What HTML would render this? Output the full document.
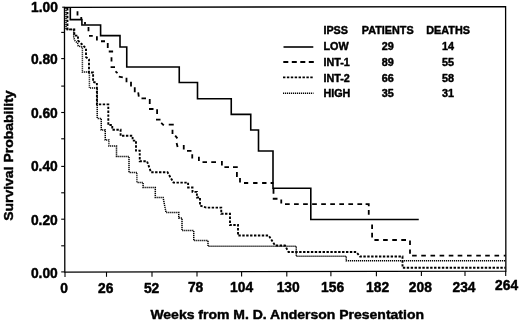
<!DOCTYPE html>
<html>
<head>
<meta charset="utf-8">
<title>Survival Probability by IPSS</title>
<style>
html,body{margin:0;padding:0;background:#fff;}
body{width:520px;height:323px;overflow:hidden;}
svg{display:block;filter:grayscale(1);}
text{font-family:"Liberation Sans",Arial,Helvetica,sans-serif;font-weight:bold;fill:#000;stroke:#000;stroke-width:0.45px;stroke-linejoin:round;}
.ax{font-size:13.8px;}
.lg{font-size:10.8px;}
</style>
</head>
<body>
<svg width="520" height="323" viewBox="0 0 520 323">
<rect x="0" y="0" width="520" height="323" fill="#fff"/>

<!-- frame -->
<polygon points="64.45,7.3 505.6,6.6 505.85,271.1 64.8,272.1" fill="none" stroke="#000" stroke-width="1.3"/>

<!-- y ticks -->
<g stroke="#000" stroke-width="1.1">
<line x1="62.2" y1="7.2" x2="64.6" y2="7.2"/>
<line x1="61.2" y1="32.4" x2="64.6" y2="32.4"/>
<line x1="61.2" y1="58.6" x2="64.6" y2="58.6"/>
<line x1="61.2" y1="86.1" x2="64.6" y2="86.1"/>
<line x1="61.2" y1="112.5" x2="64.6" y2="112.5"/>
<line x1="61.2" y1="138.8" x2="64.6" y2="138.8"/>
<line x1="61.2" y1="166.4" x2="64.6" y2="166.4"/>
<line x1="61.2" y1="192.8" x2="64.6" y2="192.8"/>
<line x1="61.2" y1="219.2" x2="64.6" y2="219.2"/>
<line x1="61.2" y1="245.8" x2="64.6" y2="245.8"/>
<line x1="61.2" y1="271.9" x2="64.6" y2="271.9"/>
</g>
<!-- x ticks -->
<g stroke="#000" stroke-width="1.1">
<line x1="65" y1="272.1" x2="65" y2="276.9"/>
<line x1="106.5" y1="272.0" x2="106.5" y2="276.8"/>
<line x1="152" y1="271.9" x2="152" y2="276.7"/>
<line x1="197" y1="271.8" x2="197" y2="276.6"/>
<line x1="241.6" y1="271.7" x2="241.6" y2="276.5"/>
<line x1="286.8" y1="271.6" x2="286.8" y2="276.4"/>
<line x1="330.9" y1="271.5" x2="330.9" y2="276.3"/>
<line x1="376.4" y1="271.4" x2="376.4" y2="276.2"/>
<line x1="421.4" y1="271.3" x2="421.4" y2="276.1"/>
<line x1="465" y1="271.2" x2="465" y2="276.0"/>
<line x1="505.7" y1="271.1" x2="505.7" y2="275.9"/>
</g>

<!-- y labels -->
<g class="ax" text-anchor="end">
<text x="57.9" y="11.7">1.00</text>
<text x="57.8" y="63.6">0.80</text>
<text x="57.8" y="117.6">0.60</text>
<text x="57.8" y="171.1">0.40</text>
<text x="57.8" y="224.75">0.20</text>
<text x="57.8" y="278.45">0.00</text>
</g>
<!-- x labels -->
<g class="ax" text-anchor="middle">
<text x="64" y="292.7">0</text>
<text x="105.7" y="292.6">26</text>
<text x="151.6" y="292.5">52</text>
<text x="195.6" y="292.4">78</text>
<text x="241.6" y="292.3">104</text>
<text x="288.2" y="292.25">130</text>
<text x="332.6" y="292.2">156</text>
<text x="377.6" y="292.1">182</text>
<text x="420.3" y="291.9">208</text>
<text x="464" y="291.9">234</text>
<text x="506.6" y="289.8">264</text>
</g>

<!-- axis titles -->
<text class="ax" x="287.2" y="319.1" text-anchor="middle" textLength="273.6" lengthAdjust="spacingAndGlyphs" style="font-size:13.5px">Weeks from M. D. Anderson Presentation</text>
<text class="ax" transform="translate(13.4,155.65) rotate(-90)" text-anchor="middle" textLength="130.4" lengthAdjust="spacingAndGlyphs" style="font-size:13.6px">Survival Probability</text>

<!-- legend -->
<g class="lg">
<text x="323.4" y="34.1">IPSS</text>
<text x="387.75" y="34.1" text-anchor="middle">PATIENTS</text>
<text x="448.1" y="34.1" text-anchor="middle">DEATHS</text>
<text x="323.4" y="50">LOW</text>
<text x="387.75" y="50" text-anchor="middle">29</text>
<text x="448.1" y="50" text-anchor="middle">14</text>
<text x="323.4" y="65.55">INT-1</text>
<text x="387.75" y="65.55" text-anchor="middle">89</text>
<text x="448.1" y="65.55" text-anchor="middle">55</text>
<text x="323.4" y="81.65">INT-2</text>
<text x="387.75" y="81.65" text-anchor="middle">66</text>
<text x="448.1" y="81.65" text-anchor="middle">58</text>
<text x="323.4" y="97.4">HIGH</text>
<text x="387.75" y="97.4" text-anchor="middle">35</text>
<text x="448.1" y="97.4" text-anchor="middle">31</text>
</g>
<g fill="none" stroke="#000">
<line x1="283.5" y1="47" x2="313.3" y2="47" stroke-width="1.6"/>
<line x1="283.3" y1="62" x2="314" y2="62" stroke-width="1.8" stroke-dasharray="5 3.5"/>
<line x1="283" y1="77.4" x2="313" y2="77.4" stroke-width="1.9" stroke-dasharray="2.4 1.5"/>
<line x1="283" y1="93.2" x2="313.5" y2="93.2" stroke-width="1.5" stroke-dasharray="1.2 0.8"/>
</g>

<!-- curves -->
<g fill="none" stroke="#000" stroke-linejoin="miter">
<!-- LOW solid -->
<path stroke-width="1.6" d="M70.3,7.2 V19.6 H81.9 V25 H100.6 V35.6 H120 V47 H126.75 V67 H179.25 V82.5 H197.5 V98.75 H231.25 V114.4 H250.75 V130 H258.5 V151 H273 V188.2 H310.8 V219.5 H418.75"/>
<!-- INT-1 dashed -->
<path stroke-width="1.8" d="M77.5,11.25L77.5,15.6 M81.25,16.9L81.25,20 M85,21.9L85,24.4 M88.5,26.9L88.5,31.25 M89,35.9L92.75,35.9 M96.9,36.25L96.9,40.6 M101,41.25L105,41.25 M107.75,43.1L107.75,48.1 M108.75,51.5L113.1,51.5 M111.5,57.25L111.5,61.5 M110.6,67.1L115,67.1 M115.5,71.3L117.5,73.2 M118.8,76.6L122.8,77.4 M126.5,77.8L126.5,82.3 M131,81.8L131,86.4 M134.75,87.3L134.75,92.3 M138.2,92.3L138.8,96.6 M141.5,98.3L146,98.3 M149.75,99L149.75,104 M149,109L153.5,109 M157.1,109.3L157.1,114 M156,119.6L160.5,119.6 M161.2,122.8L163.8,125.3 M168.75,124.7L173.75,124.7 M172.5,129.75L172.5,134 M175.2,135.6L177.4,138.4 M176.6,143L177.6,147 M183.75,145L183.75,149.5 M187,150.9L191.5,150.9 M192.25,154.3L192.25,158.5 M198.9,156.7L198.9,161 M202.5,162.1L207,162.1 M211.25,162.1L216,162.1 M221.9,161L221.9,165.5 M224.4,167.1L229,167.1 M233,167.1L237.75,167.1 M236.9,172L236.9,177 M240,178L240,182.5 M244,183L248.2,183 M253.1,183L257.5,183 M262.1,183L266.5,183 M270.6,183L273.5,183 M273.5,188.5L273.5,193.75 M272.75,198.75L277.5,198.75 M281.25,199.4L281.25,203.5 M285,204.1L289.7,204.1 M294.05,204.1L298.75,204.1 M303.1,204.1L307.8,204.1 M312.15,204.1L316.85,204.1 M321.2,204.1L325.9,204.1 M330.25,204.1L334.95,204.1 M339.3,204.1L344,204.1 M348.35,204.1L353.05,204.1 M357.4,204.1L362.1,204.1 M365.6,204.1 H368.75 V206.3 M368.75,210L368.75,214.75 M372.1,224.4L372.1,228.9 M372.1,232.75L372.1,237.5 M374.4,240L378.75,240 M383.1,240L387.75,240 M392.25,240L396.9,240 M401.25,240L406,240 M410,240.6L410,245 M410,249.4L410,253.75 M412.1,255.55L416.7,255.55 M421.25,255.55L425.85,255.55 M430.5,255.55L435.1,255.55 M439.6,255.55L444.2,255.55 M448.75,255.55L453.35,255.55 M457.7,255.55L462.3,255.55 M467,255.55L471.6,255.55 M476.25,255.55L480.85,255.55 M485.2,255.55L489.8,255.55 M494.5,255.55L499.1,255.55 M503.75,255.55L505.6,255.55"/>
<!-- INT-2 dotted -->
<path stroke-width="1.9" stroke-dasharray="2.4 1.5" d="M67.45,8 V29.4 H74.3 V35.6 H78 V40.5 L79.5,42.2 L82.2,44.5 L84.5,46.9 L86,48.4 V57 L89,59.4 V72.5 H93.1 V82 L96.9,82.75 V104.4 H108.3 V125 H112.25 V129.75 H120.6 V135.8 H132.6 V140.6 H136 V150.6 H139.75 V161.25 H147 L151,172.3 H167.5 L173.5,182.6 H188.1 V187.5 H192.5 V191.9 H196.9 V197.5 H200 V205.6 L206.25,207.6 H221.25 V213.75 H230 V225 H238 V235.5 H268.75 L275,245.5 H285 L288.5,252 H356.25 L360,256.5 H402.5 V267.7 H505.5"/>
<!-- HIGH fine dotted -->
<path stroke-width="1.5" stroke-dasharray="1.2 0.8" d="M66,8 V29.4 H73.7 V37.6 L75,40.7 L77.5,43.2 L78.3,46 L82.4,47 V72 H89.4 V88.1 H97.2 V118.4 H101.25 V130 H105.25 V140 H108.9 V146 H116.5 V156.5 H129 V172.4 H136.9 V182.5 H143.1 V187.5 H155.3 V197.5 H163.1 L166,212.5 H178.75 V218 H182 V230.5 H193.75 V240.5 H208 V246.25 H296.25 V256.25 H346.25 V260.75 H505.5"/>
</g>
</svg>
</body>
</html>
